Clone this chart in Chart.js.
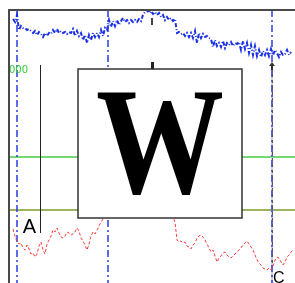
<!DOCTYPE html>
<html>
<head>
<meta charset="utf-8">
<script src="https://cdn.jsdelivr.net/npm/chart.js@4"></script>
<style>
  html, body { margin: 0; padding: 0; background: #fff; }
  canvas { display: block; }
</style>
</head>
<body>
<canvas id="chart" width="295" height="283"></canvas>
<script>
// trading days on the x axis, one value per day
const priceDays = Array.from({length: 140}, (v, i) => i + 2)
const price = [264, 261, 268, 253, 257, 255, 255, 253, 254, 252, 250, 252, 248, 251, 249, 246, 250, 247, 250, 249,
  253, 250, 254, 250, 252, 250, 251, 249, 251, 250, 254, 247, 252, 247, 250, 243, 248, 240, 248, 243,
  250, 246, 250, 246, 253, 247, 255, 253, 263, 256, 262, 257, 263, 258, 262, 265, 261, 263, 260, 263,
  261, 263, 261, 264, 262, 268, 271, 273, 270, 272, 269, 271, 268, 270, 266, 268, 263, 266, 263, 265,
  262, 264, 250, 251, 249, 250, 247, 250, 246, 250, 245, 252, 240, 250, 245, 249, 246, 247, 245, 244,
  236, 243, 237, 240, 236, 242, 235, 240, 238, 241, 237, 240, 239, 241, 233, 242, 234, 240, 230, 238,
  228, 237, 227, 233, 226, 232, 228, 233, 227, 234, 228, 233, 230, 226, 231, 228, 229, 233, 228, 231]

const oscDays = Array.from({length: 141}, (v, i) => i + 2)
const oscillator = [54, 47, 41, 39, 40, 35, 33, 38, 34, 29, 30, 26, 29, 37, 41, 33, 29, 39, 43, 47,
  53, 51, 55, 50, 46, 45, 47, 51, 50, 48, 49, 51, 55, 52, 45, 42, 38, 33, 39, 47,
  51, 49, 53, 57, 61, 64,
  69, 72, 75, 73, 77, 74, 78, 76, 73, 75, 79, 77, 74, 76, 78, 75, 72, 74, 77, 79,
  76, 73, 75, 78, 74, 71, 73, 76, 74, 72, 70, 73, 71, 68, 66,
  61, 43, 41, 42, 40, 41, 37, 36, 34, 38, 40, 45, 47, 48, 46, 43, 39, 35, 31, 33,
  27, 21, 25, 27, 30, 31, 28, 26, 25, 27, 29, 31, 33, 35, 38, 40, 42, 39, 36, 33,
  28, 23, 20, 18, 15, 14, 13, 15, 13, 17, 23, 26, 25, 21, 18, 21, 26, 28, 31, 33]

const eventDays = [4, 49.5, 131.5]
const levels = [126, 73]
const levelColors = ['#44cc44', '#7a9a2a']
const markerA = {day: 15.5, top: 218, bottom: 50, label: 'A'}
const markerC = {day: 131.5, label: 'C'}
const tickDay = 71.5
const boxRange = {x0: 34.5, x1: 116.5, y0: 65, y1: 214}

const overlay = {
  id: 'overlay',
  beforeDatasetsDraw(chart) {
    const {ctx, chartArea: area, scales: {x, y}} = chart
    ctx.save()
    // horizontal levels
    levels.forEach((lv, i) => {
      ctx.strokeStyle = levelColors[i]
      ctx.lineWidth = 1.5
      ctx.beginPath()
      ctx.moveTo(area.left, y.getPixelForValue(lv))
      ctx.lineTo(area.right, y.getPixelForValue(lv))
      ctx.stroke()
    })
    // gray dashed marker under C
    const cx = Math.round(x.getPixelForValue(markerC.day))
    const gTop = y.getPixelForValue(215)
    ctx.strokeStyle = '#d0d0d0'
    ctx.lineWidth = 2
    ctx.beginPath()
    ctx.moveTo(cx, gTop)
    ctx.lineTo(cx, area.bottom)
    ctx.stroke()
    // event lines
    ctx.strokeStyle = '#2a3de0'
    ctx.lineWidth = 1.5
    ctx.setLineDash([7, 3, 2, 3])
    eventDays.forEach(d => {
      const px = Math.round(x.getPixelForValue(d))
      ctx.beginPath()
      ctx.moveTo(px, area.top)
      ctx.lineTo(px, area.bottom)
      ctx.stroke()
    })
    ctx.strokeStyle = '#555'
    ctx.lineWidth = 1
    ctx.setLineDash([3, 3])
    ctx.beginPath()
    ctx.moveTo(cx + 0.5, gTop)
    ctx.lineTo(cx + 0.5, y.getPixelForValue(18))
    ctx.stroke()
    ctx.setLineDash([])
    // marker line A
    const ax = Math.round(x.getPixelForValue(markerA.day)) + 0.5
    ctx.strokeStyle = '#222'
    ctx.lineWidth = 1
    ctx.beginPath()
    ctx.moveTo(ax, y.getPixelForValue(markerA.top))
    ctx.lineTo(ax, y.getPixelForValue(markerA.bottom))
    ctx.stroke()
    // value label
    ctx.fillStyle = '#33cc33'
    ctx.font = '10px "DejaVu Sans"'
    ctx.textBaseline = 'middle'
    ctx.fillText('000', area.left, y.getPixelForValue(213))
    ctx.restore()
  },
  afterDatasetsDraw(chart) {
    const {ctx, chartArea: area, scales: {x, y}} = chart
    ctx.save()
    // frame
    ctx.strokeStyle = '#4a4a4a'
    ctx.lineWidth = 2
    ctx.beginPath()
    ctx.moveTo(area.left, area.bottom)
    ctx.lineTo(area.left, area.top)
    ctx.lineTo(area.right, area.top)
    ctx.stroke()
    // box with W
    const bx0 = x.getPixelForValue(boxRange.x0), bx1 = x.getPixelForValue(boxRange.x1)
    const by0 = y.getPixelForValue(boxRange.y1), by1 = y.getPixelForValue(boxRange.y0)
    ctx.fillStyle = '#fff'
    ctx.fillRect(bx0, by0, bx1 - bx0, by1 - by0)
    ctx.strokeStyle = '#333'
    ctx.lineWidth = 1.5
    ctx.strokeRect(bx0, by0, bx1 - bx0, by1 - by0)
    ctx.save()
    ctx.translate((bx0 + bx1) / 2, by0 + 124)
    ctx.scale(1, 1.19)
    ctx.fillStyle = '#000'
    ctx.font = 'bold 128px "Liberation Serif"'
    ctx.textAlign = 'center'
    ctx.textBaseline = 'alphabetic'
    ctx.fillText('W', 0, 0)
    ctx.restore()
    // ticks
    const tx = Math.round(x.getPixelForValue(tickDay))
    ctx.fillStyle = '#222'
    ctx.fillRect(tx - 1, by0 - 7, 3, 7)
    ctx.fillStyle = '#444'
    ctx.fillRect(tx - 1, y.getPixelForValue(265), 2, 7)
    const cx = Math.round(x.getPixelForValue(markerC.day))
    ctx.fillStyle = '#333'
    ctx.beginPath()
    ctx.moveTo(cx, by0 - 7)
    ctx.lineTo(cx + 3, by0 - 3)
    ctx.lineTo(cx - 3, by0 - 3)
    ctx.closePath()
    ctx.fill()
    ctx.fillRect(cx - 1, by0 - 4, 2, 5)
    // labels
    ctx.fillStyle = '#000'
    ctx.textBaseline = 'alphabetic'
    ctx.font = '20px "Liberation Sans"'
    ctx.textAlign = 'right'
    ctx.fillText(markerA.label, Math.round(x.getPixelForValue(markerA.day)) - 4, y.getPixelForValue(markerA.bottom))
    ctx.font = '16px "Liberation Sans"'
    ctx.textAlign = 'left'
    ctx.fillText(markerC.label, cx + 1, area.bottom)
    ctx.restore()
  }
}

new Chart(document.getElementById('chart'), {
  type: 'line',
  data: {
    datasets: [{
      data: priceDays.map((d, i) => ({x: d, y: price[i]})),
      borderColor: '#1a30e6',
      borderWidth: 2,
      borderDash: [4, 2, 1, 2],
      pointRadius: 0,
      tension: 0
    }, {
      data: oscDays.map((d, i) => ({x: d, y: oscillator[i]})),
      borderColor: '#ff3a3a',
      borderWidth: 1,
      borderDash: [3, 2],
      pointRadius: 0,
      tension: 0
    }]
  },
  options: {
    responsive: false,
    animation: false,
    layout: {padding: {left: 9, top: 10, right: 0, bottom: 0}},
    scales: {
      x: {type: 'linear', min: 0, max: 143, display: false},
      y: {min: 0, max: 273, display: false}
    },
    plugins: {legend: {display: false}, tooltip: {enabled: false}}
  },
  plugins: [overlay]
})
</script>
</body>
</html>
